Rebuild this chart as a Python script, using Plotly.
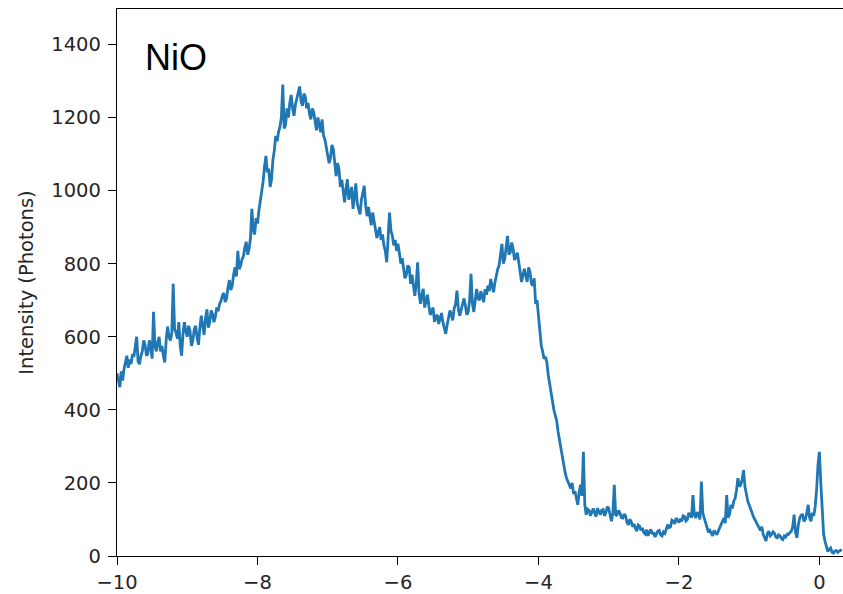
import numpy as np
import plotly.graph_objects as go

# Energy grid (eV), uniform sampling
energy_start = -10.0
energy_step = 0.02

# Intensity (photons), one value per 0.02 eV
intensity = [
    500, 478, 462, 505, 480, 512, 535, 548, 515, 538, 525, 552, 545, 570, 600, 532, 525, 548, 560, 590,
    578, 548, 555, 590, 575, 540, 668, 575, 560, 585, 600, 560, 575, 548, 530, 590, 628, 600, 590, 610,
    745, 620, 612, 595, 640, 575, 548, 610, 640, 615, 600, 630, 615, 575, 590, 620, 630, 598, 578, 625,
    658, 630, 605, 650, 675, 625, 640, 672, 662, 640, 655, 680, 670, 690, 698, 712, 720, 695, 705, 735,
    755, 728, 740, 770, 790, 765, 835, 785, 795, 812, 820, 845, 860, 825, 840, 870, 950, 890, 880, 925,
    910, 945, 968, 1000, 1025, 1065, 1095, 1050, 1060, 1010, 1030, 1085, 1110, 1150, 1135, 1160, 1175, 1200, 1290, 1170,
    1180, 1225, 1200, 1240, 1262, 1225, 1205, 1235, 1250, 1270, 1285, 1245, 1232, 1265, 1258, 1225, 1240, 1210, 1195, 1225,
    1215, 1190, 1165, 1200, 1180, 1160, 1195, 1150, 1140, 1120, 1105, 1075, 1090, 1125, 1113, 1070, 1040, 1075, 1060, 1010,
    1030, 1000, 968, 1005, 1031, 975, 990, 1010, 950, 985, 1020, 965, 950, 935, 975, 990, 1013, 960, 930, 955,
    925, 905, 940, 915, 900, 870, 886, 900, 865, 880, 850, 835, 804, 860, 940, 890, 877, 850, 865, 835,
    855, 830, 800, 815, 786, 760, 770, 795, 790, 745, 770, 735, 712, 745, 804, 720, 690, 715, 731, 680,
    700, 715, 685, 660, 668, 680, 641, 655, 660, 635, 650, 665, 640, 625, 608, 632, 650, 672, 660, 645,
    677, 690, 726, 675, 658, 672, 690, 705, 685, 660, 668, 700, 772, 690, 668, 700, 731, 705, 700, 725,
    712, 695, 730, 715, 740, 725, 758, 740, 722, 748, 770, 785, 795, 820, 854, 800, 813, 845, 876, 825,
    831, 858, 840, 810, 820, 830, 804, 780, 750, 770, 786, 765, 750, 790, 777, 745, 740, 760, 690, 700,
    660, 615, 576, 560, 540, 545, 530, 495, 470, 452, 430, 400, 385, 370, 340, 318, 290, 270, 245, 228,
    213, 205, 195, 185, 200, 170, 177, 160, 140, 175, 195, 165, 285, 140, 113, 128, 125, 110, 122, 130,
    118, 108, 131, 120, 113, 125, 127, 110, 118, 135, 131, 112, 95, 120, 195, 110, 113, 125, 118, 105,
    104, 115, 110, 92, 85, 100, 95, 80, 88, 76, 68, 85, 82, 70, 77, 64, 60, 72, 55, 66,
    73, 60, 65, 52, 59, 68, 70, 58, 55, 66, 62, 75, 86, 78, 80, 98, 95, 88, 104, 97,
    92, 102, 95, 110, 108, 96, 100, 118, 113, 105, 167, 112, 104, 120, 113, 100, 204, 118, 104, 90,
    77, 65, 70, 60, 55, 70, 62, 58, 68, 80, 86, 95, 104, 90, 167, 105, 113, 140, 130, 150,
    158, 180, 213, 190, 195, 210, 235, 190, 167, 150, 140, 128, 122, 108, 100, 92, 86, 76, 70, 80,
    59, 50, 41, 62, 68, 55, 59, 66, 62, 52, 50, 58, 55, 48, 45, 55, 52, 60, 59, 64,
    68, 80, 113, 65, 50, 85, 104, 112, 113, 95, 100, 118, 140, 105, 95, 118, 110, 135, 180, 250,
    285, 200, 110, 60, 40, 25, 12, 18, 22, 10, 8, 14, 15, 10, 12, 16, 14,
]
energy = np.round(energy_start + energy_step * np.arange(len(intensity)), 2)

x_ticks = [-10, -8, -6, -4, -2, 0]
y_ticks = [0, 200, 400, 600, 800, 1000, 1200, 1400]
x_range = [-10, 0.336]
y_range = [0, 1497]
y_label = "Intensity (Photons)"
sample_label = "NiO"


def fmt(v):
    return ("\u2212" + str(abs(v))) if v < 0 else str(v)


fig = go.Figure()
fig.add_trace(go.Scatter(
    x=energy, y=intensity, mode="lines",
    line=dict(color="#1f77b4", width=2.8),
    showlegend=False, hoverinfo="skip",
))

axis_common = dict(
    showline=True, linecolor="black", linewidth=1.3,
    ticks="outside", ticklen=8, tickwidth=1.3, tickcolor="black",
    showgrid=False, zeroline=False,
    tickfont=dict(family="DejaVu Sans", size=19.5, color="#262626"),
)

fig.update_xaxes(range=x_range, tickvals=x_ticks,
                 ticktext=[fmt(v) for v in x_ticks], mirror=True,
                 **axis_common)
fig.update_yaxes(range=y_range, tickvals=y_ticks,
                 ticktext=[fmt(v) for v in y_ticks],
                 ticklabelstandoff=3,
                 title=dict(text=y_label, standoff=12,
                            font=dict(family="DejaVu Sans", size=19.5, color="#262626")),
                 **axis_common)

fig.add_annotation(
    text=sample_label, xref="paper", yref="paper", x=0.036, y=0.9107,
    xanchor="left", yanchor="middle", showarrow=False,
    font=dict(family="Liberation Sans", size=36, color="black"),
)

fig.update_layout(
    width=843, height=594,
    margin=dict(l=117, r=0, t=9, b=36),
    paper_bgcolor="white", plot_bgcolor="white",
)

fig.write_html("out.html", config={"displayModeBar": False})
